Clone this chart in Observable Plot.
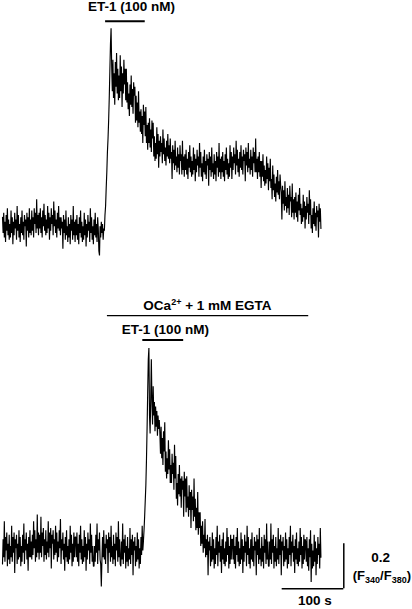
<!DOCTYPE html>
<html><head><meta charset="utf-8">
<script src="https://cdn.jsdelivr.net/npm/d3@7"></script>
<script src="https://cdn.jsdelivr.net/npm/@observablehq/plot@0.6"></script>
<style>
body{margin:0;background:#fff}
#chart{width:412px;height:609px;overflow:hidden}
svg{display:block}
</style>
</head><body><div id="chart"></div>
<script>
// sampling interval of the recordings (s)
const dt = 1;

// F340/F380 ratio, top recording (ET-1 in normal Ca2+), one value per second
const traceTop = [
  0.75,0.68,0.77,0.66,0.73,0.64,0.76,0.69,0.79,0.67,
  0.74,0.65,0.72,0.66,0.78,0.68,0.75,0.63,0.73,0.67,
  0.77,0.70,0.74,0.65,0.80,0.69,0.76,0.66,0.72,0.64,
  0.75,0.68,0.78,0.67,0.73,0.65,0.76,0.71,0.74,0.62,
  0.77,0.69,0.75,0.66,0.79,0.68,
  0.74,0.67,0.78,0.69,0.75,0.66,0.79,0.72,0.77,0.68,0.83,0.70,0.76,0.67,
  0.77,0.70,0.79,0.68,0.75,0.66,0.78,0.71,0.81,0.69,
  0.76,0.67,0.74,0.68,0.80,0.70,0.77,0.65,0.75,0.69,
  0.79,0.72,0.76,0.67,0.82,0.71,0.78,0.68,0.74,0.66,
  0.77,0.70,0.80,0.69,0.75,0.67,
  0.75,0.70,0.73,0.61,
  0.76,0.68,0.74,0.65,0.78,0.67,0.71,0.64,0.75,0.66,
  0.72,0.63,0.76,0.69,0.74,0.65,0.80,0.67,0.73,0.64,
  0.74,0.67,0.76,0.65,0.72,0.63,0.75,0.68,0.78,0.66,
  0.73,0.64,0.71,0.65,0.77,0.67,0.74,0.62,0.72,0.66,
  0.76,0.69,0.73,0.64,0.79,0.68,0.75,0.65,0.71,0.63,
  0.74,0.67,0.77,0.66,0.72,0.64,0.75,0.70,
  0.60,0.58,
  0.71,0.66,0.73,0.68,0.72,0.65,0.70,0.69,
  0.76,0.80,0.88,0.95,1.04,1.10,1.18,1.28,1.40,1.52,1.59,
  1.42,1.31,1.45,1.28,1.39,1.25,1.44,1.33,1.48,1.30,1.41,1.27,
  1.38,1.28,1.47,1.31,1.42,1.24,1.39,1.30,1.45,1.34,1.41,1.27,
  1.41,1.26,1.35,1.23,1.30,1.20,1.34,1.25,1.38,1.24,1.32,1.21,1.35,1.29,1.33,1.17,
  1.29,1.18,1.26,1.15,1.31,1.17,1.22,1.13,
  1.23,1.12,1.20,1.08,1.25,1.16,1.22,1.11,
  1.24,1.08,1.16,1.05,1.17,1.08,1.19,1.06,1.14,1.04,1.18,1.10,
  1.17,1.02,1.11,1.00,1.08,1.01,1.15,1.03,1.12,0.97,1.09,1.02,
  1.11,1.04,1.08,0.99,1.14,1.03,1.10,1.00,1.06,0.98,
  1.09,1.02,1.12,1.01,1.07,0.99,1.10,
  1.01,1.04,0.92,
  1.07,0.99,1.05,0.96,1.09,0.98,1.02,0.95,1.06,0.97,
  1.03,0.94,1.07,1.00,
  1.03,0.94,1.09,0.96,1.02,0.93,
  1.03,0.96,1.05,0.94,1.01,0.92,1.04,0.97,1.07,0.95,
  1.02,0.93,1.00,0.94,1.06,0.96,1.03,0.91,1.01,0.95,
  1.05,0.98,1.02,0.93,1.08,0.97,1.04,
  0.93,0.99,0.91,
  1.02,0.95,1.05,0.94,1.00,0.92,1.03,0.98,1.01,0.89,
  1.04,0.96,1.02,0.93,1.06,0.95,0.99,0.92,1.03,0.94,
  1.00,0.91,1.04,0.97,1.02,0.93,1.08,0.95,1.01,0.92,
  1.02,0.95,1.04,0.93,1.00,0.91,1.03,0.96,1.06,0.94,1.01,0.92,0.99,0.93,
  1.07,0.97,1.04,0.92,1.02,0.96,
  1.06,0.99,1.03,0.94,1.09,0.98,1.05,0.95,1.01,0.93,
  1.04,0.97,1.07,0.96,1.02,0.94,1.05,1.00,1.03,0.91,
  1.06,0.98,1.04,0.95,1.08,0.97,1.01,0.94,1.05,0.96,
  1.02,0.93,1.06,0.99,1.04,0.95,1.10,
  0.95,1.01,0.92,1.02,0.95,1.04,0.93,1.00,
  0.88,1.00,0.93,1.03,0.91,0.98,0.89,0.96,0.90,1.02,0.92,0.99,0.87,0.97,0.91,1.01,
  0.88,0.92,0.83,0.98,0.87,0.94,0.84,0.90,0.82,0.93,0.86,0.96,0.85,0.91,0.83,0.94,0.89,
  0.86,0.74,0.89,0.81,0.87,0.78,0.91,0.80,0.84,0.77,0.88,0.79,0.85,0.76,0.89,0.82,
  0.84,0.75,0.90,0.77,0.83,0.74,0.84,0.77,0.86,0.75,0.82,0.73,0.85,0.78,0.88,0.76,
  0.81,0.72,0.79,0.73,0.85,0.75,0.82,0.70,0.80,0.74,0.84,0.77,0.81,0.72,0.87,0.76,0.83,
  0.70,0.76,0.68,0.79,0.72,0.82,0.71,0.77,0.69,0.80,0.75,0.78,0.66,0.81,0.73,0.79,0.70
];

// F340/F380 ratio, bottom recording (0 Ca2+ + 1 mM EGTA), one value per second
const traceBottom = [
  0.64,0.75,0.67,0.83,0.65,0.76,0.70,0.78,0.63,0.73,
  0.66,0.77,0.64,0.72,0.67,0.81,0.65,0.76,0.69,0.78,
  0.60,0.75,0.71,0.77,0.64,0.73,0.66,0.79,0.67,0.76,
  0.63,0.72,0.65,0.77,0.69,0.82,0.64,0.75,0.70,0.78,
  0.66,0.73,0.61,0.76,0.67,0.79,
  0.67,0.74,0.66,0.77,0.68,0.83,0.71,0.79,0.65,0.75,0.67,0.86,0.69,0.78,
  0.66,0.77,0.69,0.85,0.67,0.78,0.72,0.80,0.65,0.75,
  0.68,0.79,0.66,0.74,0.69,0.83,0.67,0.78,0.71,0.80,
  0.62,0.77,0.73,0.79,0.66,0.75,0.68,0.81,0.69,0.78,
  0.65,0.74,0.67,0.79,0.71,0.84,
  0.64,0.75,0.70,0.78,
  0.66,0.73,0.61,0.76,0.67,0.79,0.65,0.72,0.64,0.75,
  0.66,0.81,0.69,0.77,0.63,0.73,0.65,0.78,0.67,0.76,
  0.76,0.67,0.78,0.65,0.73,0.63,0.77,0.69,0.81,0.66,
  0.75,0.64,0.72,0.65,0.79,0.67,0.76,0.61,0.73,0.66,
  0.78,0.70,0.75,0.64,0.82,0.69,0.77,0.65,0.72,0.63,
  0.63,0.72,0.65,0.77,0.69,0.82,0.64,0.75,0.70,0.78,0.66,
  0.64,0.54,0.66,
  0.76,0.67,0.79,0.66,0.73,0.64,0.77,0.71,0.75,0.60,
  0.78,0.69,0.76,0.65,0.81,0.67,0.72,0.64,0.77,0.66,
  0.73,0.63,0.78,0.70,0.76,0.65,0.83,0.67,0.75,0.64,
  0.63,0.74,0.66,0.82,0.64,0.75,0.69,0.77,0.62,0.72,
  0.65,0.76,0.63,0.71,0.66,0.80,0.64,0.75,0.68,0.77,
  0.59,0.74,0.70,0.76,0.63,0.72,0.65,0.78,0.66,0.75,
  0.62,0.71,0.64,0.76,0.68,0.81,
  0.70,0.74,0.79,0.85,0.92,0.99,1.10,1.24,1.40,1.55,1.60,
  1.30,1.22,1.38,1.55,1.36,1.26,1.43,1.30,1.36,1.23,1.34,1.25,1.32,1.21,1.30,1.24,1.28,
  1.22,1.13,1.25,1.11,1.20,1.08,1.23,1.14,1.27,
  1.05,1.14,1.02,1.11,1.04,1.19,1.06,1.15,1.00,
  1.08,1.00,1.13,1.04,1.09,0.97,1.17,1.02,1.12,
  0.93,1.00,0.90,1.04,0.95,1.08,0.94,1.02,
  0.89,1.03,0.97,1.01,0.85,1.05,0.94,1.02,
  0.87,1.03,0.89,0.94,0.85,0.99,0.88,0.96,
  0.80,0.97,0.88,0.94,0.83,1.02,0.85,0.93,
  0.79,0.89,0.80,0.96,0.77,0.87,0.80,0.87,0.72,0.81,0.73,0.83,0.69,0.77,0.71,0.84,0.67,
  0.75,0.68,0.77,
  0.59,0.74,0.70,0.76,0.63,0.72,0.65,0.78,0.66,0.75,
  0.62,0.71,0.64,0.76,0.68,0.81,0.63,0.74,0.69,0.77,
  0.65,0.72,0.60,0.75,0.66,0.78,0.64,0.71,0.63,0.74,
  0.65,0.80,0.68,0.76,0.62,0.72,0.64,0.77,0.66,0.75,
  0.75,0.66,0.77,0.64,0.72,0.62,0.76,0.68,0.80,0.65,
  0.74,0.63,0.71,0.64,0.78,0.66,0.75,0.60,0.72,0.65,
  0.77,0.69,0.74,0.63,0.81,0.68,0.76,0.64,0.71,0.62,
  0.75,0.66,0.78,0.65,0.72,0.63,0.76,0.70,0.74,0.59,
  0.77,0.68,0.75,0.64,0.80,0.66,0.71,0.63,0.76,0.65,
  0.72,0.62,0.77,0.69,0.75,0.64,0.82,0.66,0.74,0.63,
  0.63,0.74,0.66,0.82,0.64,0.75,0.69,0.77,0.62,0.72,
  0.65,0.76,0.63,0.71,0.66,0.80,0.64,0.75,0.68,0.77,
  0.59,0.74,0.70,0.76,0.63,0.72,0.65,0.78,0.66,0.75,
  0.62,0.71,0.64,0.76,0.68,0.81,0.63,0.74,0.69,0.77,
  0.65,0.72,0.60,0.75,0.66,0.78,0.64,0.71,0.63,0.74,
  0.65,0.80,0.68,0.76,0.62,0.72,0.64,0.77,0.66,0.75,
  0.74,0.65,0.76,0.63,0.71,0.61,0.75,0.67,0.79,0.56,
  0.73,0.62,0.70,0.63,0.77,0.65,0.74,0.59,0.71,0.64,
  0.76,0.68,0.73,0.62,0.80,0.67
];

// protocol bars (s)
const et1Top = [169, 234];
const et1Bottom = [230, 297];
const egtaBar = [172, 502];
const labelET1 = "ET-1 (100 nM)";
const labelEGTA = "OCa2+ + 1 mM EGTA";

// calibration bars
const scaleTime = [458.5, 559.5];     // 100 s
const scaleRatio = [0.530, 0.730];    // 0.2 ratio units
const scaleTimeLabel = "100 s";
const scaleRatioLabel = "0.2";
const scaleUnitLabel = "(F340/F380)";

const font = "'Liberation Sans', Arial, Helvetica, sans-serif";
const toRows = arr => arr.map((v, i) => ({t: i * dt, r: v}));
const xScale = {domain: [0, 660], range: [2, 2 + 660 * 0.61]};
const txt = {text: d => d, fontSize: 13.5, fontWeight: "bold", fill: "#000"};
const traceStyle = {x: "t", y: "r", stroke: "#000", strokeWidth: 1.15, strokeLinejoin: "miter"};

const topPlot = Plot.plot({
  width: 412, height: 260,
  margin: 0,
  x: {...xScale, axis: null},
  y: {domain: [0.5, 1.7], range: [273, 3], axis: null},
  style: {fontFamily: font, background: "#fff"},
  marks: [
    Plot.line(toRows(traceTop), traceStyle),
    Plot.ruleY([1.621], {x1: et1Top[0], x2: et1Top[1], stroke: "#000", strokeWidth: 2}),
    Plot.text([labelET1], {x: [211.5], y: [1.688], ...txt})
  ]
});

const bottomPlot = Plot.plot({
  width: 412, height: 349,
  margin: 0,
  x: {...xScale, axis: null},
  y: {domain: [0.5, 1.7], range: [335, 65], axis: null},
  style: {fontFamily: font, background: "#fff"},
  marks: [
    Plot.line(toRows(traceBottom), traceStyle),
    Plot.ruleY([1.744], {x1: egtaBar[0], x2: egtaBar[1], stroke: "#000", strokeWidth: 1.3}),
    Plot.ruleY([1.636], {x1: et1Bottom[0], x2: et1Bottom[1], stroke: "#000", strokeWidth: 2}),
    Plot.text([labelEGTA], {x: [336], y: [1.788], ...txt}),
    Plot.text([labelET1], {x: [267], y: [1.683], ...txt}),
    Plot.ruleX([scaleTime[1]], {y1: scaleRatio[0], y2: scaleRatio[1], stroke: "#000", strokeWidth: 1.5}),
    Plot.ruleY([scaleRatio[0]], {x1: scaleTime[0], x2: scaleTime[1], stroke: "#000", strokeWidth: 1.5}),
    Plot.text([scaleTimeLabel], {x: [512], y: [0.476], ...txt}),
    Plot.text([scaleRatioLabel], {x: [620], y: [0.669], ...txt}),
    Plot.text([scaleUnitLabel], {x: [622], y: [0.589], ...txt, fontSize: 13})
  ]
});

function richText(svg) {
  svg.querySelectorAll("text").forEach(t => {
    const s = t.textContent;
    if (s === labelEGTA) {
      t.innerHTML = 'OCa<tspan dy="-5" font-size="9">2+</tspan><tspan dy="5"> + 1 mM EGTA</tspan>';
    } else if (s === scaleUnitLabel) {
      t.innerHTML = '(F<tspan dy="3" font-size="9">340</tspan><tspan dy="-3">/F</tspan><tspan dy="3" font-size="9">380</tspan><tspan dy="-3">)</tspan>';
    }
  });
}
richText(bottomPlot);

const chart = document.getElementById("chart");
chart.appendChild(topPlot);
chart.appendChild(bottomPlot);
</script>
</body></html>
